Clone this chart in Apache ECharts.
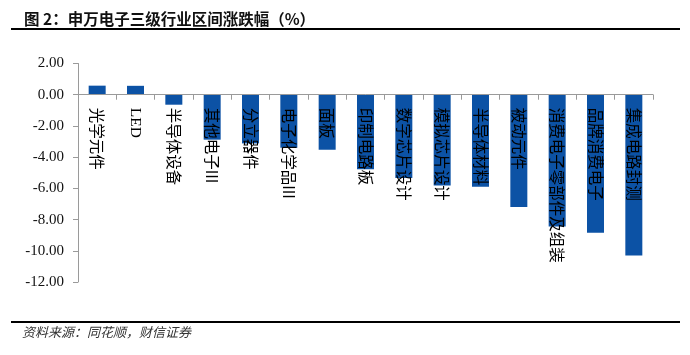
<!DOCTYPE html>
<html><head><meta charset="utf-8">
<script src="https://cdn.jsdelivr.net/npm/echarts@6/dist/echarts.min.js"></script>
<style>html,body{margin:0;padding:0;background:#fff}#c{width:690px;height:355px}</style>
</head><body><div id="c"></div>
<script>
const categories = ['光学元件','LED','半导体设备','其他电子III','分立器件','电子化学品III','面板','印制电路板','数字芯片设计','模拟芯片设计','半导体材料','被动元件','消费电子零部件及组装','品牌消费电子','集成电路封测'];
const values = [0.58,0.57,-0.64,-2.88,-3.12,-3.40,-3.53,-4.78,-5.34,-5.81,-5.90,-7.20,-8.44,-8.85,-10.30];
const yMin = -12, yMax = 2, yStep = 2;
const titleText = '图 2：申万电子三级行业区间涨跌幅（%）';
const sourceText = '资料来源：同花顺，财信证券';

const gridTop = 63.5, gridBottom = 73, H = 355;
const plotH = H - gridTop - gridBottom;
const zeroOffset = -plotH * (0 - yMin) / (yMax - yMin);

const chart = echarts.init(document.getElementById('c'), null, {renderer:'canvas'});
chart.setOption({
  animation:false,
  backgroundColor:'#fff',
  title:{text:titleText,left:19,top:6,textStyle:{fontSize:15.5,fontWeight:'bold',color:'#111',fontFamily:'Noto Sans CJK SC'}},
  graphic:[
    {type:'line',shape:{x1:11,y1:29,x2:680,y2:29},style:{stroke:'#000',lineWidth:2}},
    {type:'line',shape:{x1:11,y1:322,x2:680,y2:322},style:{stroke:'#000',lineWidth:2}},
    {type:'text',left:22,top:326,style:{text:sourceText,fontSize:13,fontStyle:'italic',fill:'#333',fontFamily:'Noto Sans CJK SC'}}
  ],
  grid:{left:78,right:37,top:gridTop,bottom:gridBottom,containLabel:false,outerBoundsMode:'none'},
  xAxis:{type:'category',data:categories,z:5,offset:zeroOffset,
    axisLine:{onZero:false,lineStyle:{color:'#9a9a9a',width:1}},
    axisTick:{show:true,alignWithLabel:false,interval:0,length:5,lineStyle:{color:'#9a9a9a'}},
    axisLabel:{interval:0,rotate:-90,margin:13,fontSize:15.5,color:'#000',fontFamily:'Noto Sans CJK SC',
      formatter:v=>/^[A-Za-z]+$/.test(v)?'{s|'+v+'}':v,
      rich:{s:{fontFamily:'Liberation Serif',fontSize:15.5,color:'#000'}}}
  },
  yAxis:{type:'value',min:yMin,max:yMax,interval:yStep,
    axisLine:{show:true,lineStyle:{color:'#9a9a9a'}},
    axisTick:{show:true,length:5,lineStyle:{color:'#9a9a9a'}},
    splitLine:{show:false},
    axisLabel:{formatter:v=>v.toFixed(2),fontSize:15,color:'#111',fontFamily:'Liberation Serif',margin:14}
  },
  series:[{type:'bar',data:values,barWidth:17,itemStyle:{color:'#0c52a5'}}]
});
</script></body></html>
